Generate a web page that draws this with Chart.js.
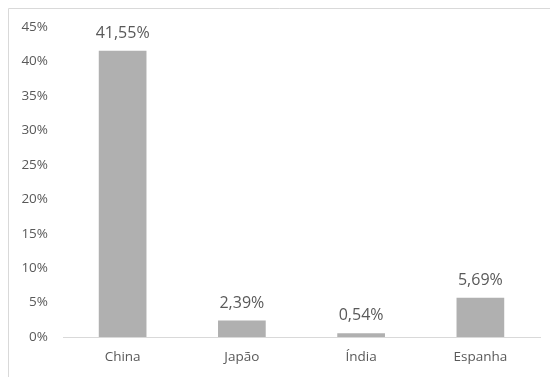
<!DOCTYPE html>
<html>
<head>
<meta charset="utf-8">
<script src="https://cdn.jsdelivr.net/npm/chart.js@4"></script>
<style>
  body { margin: 0; background: #fff; }
  #wrap { position: relative; width: 550px; height: 377px; }
</style>
</head>
<body>
<div id="wrap"><canvas id="barChart" width="550" height="377"></canvas></div>
<script>
const categories = ['China', 'Japão', 'Índia', 'Espanha'];
const shares = [41.55, 2.39, 0.54, 5.69];
const yTicks = [0, 5, 10, 15, 20, 25, 30, 35, 40, 45];

const textColor = '#595959';
const fontFamily = '"Open Sans", sans-serif';

// outer frame (only top and left edges are inside the picture)
const framePlugin = {
  id: 'frame',
  beforeDraw(chart) {
    const c = chart.ctx;
    c.save();
    c.strokeStyle = '#d9d9d9';
    c.lineWidth = 1;
    c.beginPath();
    c.moveTo(8.5, chart.height);
    c.lineTo(8.5, 8.5);
    c.lineTo(chart.width, 8.5);
    c.stroke();
    c.restore();
  }
};

// value labels above the bars
const valueLabels = {
  id: 'valueLabels',
  afterDatasetsDraw(chart) {
    const c = chart.ctx;
    const meta = chart.getDatasetMeta(0);
    c.save();
    c.font = '16px ' + fontFamily;
    c.fillStyle = textColor;
    c.textAlign = 'center';
    c.textBaseline = 'alphabetic';
    meta.data.forEach((bar, i) => {
      const txt = shares[i].toFixed(2).replace('.', ',') + '%';
      c.fillText(txt, bar.x, bar.y - 13);
    });
    c.restore();
  }
};

const ctx = document.getElementById('barChart');

new Chart(ctx, {
  type: 'bar',
  data: {
    labels: categories,
    datasets: [{
      data: shares,
      backgroundColor: '#b0b0b0',
      borderWidth: 0,
      barPercentage: 0.4,
      categoryPercentage: 1,
    }]
  },
  options: {
    responsive: false,
    animation: false,
    layout: {
      padding: { top: 27, right: 10, left: 0, bottom: 0 }
    },
    plugins: {
      legend: { display: false },
      tooltip: { enabled: false }
    },
    scales: {
      x: {
        grid: { display: false, drawTicks: false },
        border: { display: true, color: '#d9d9d9' },
        ticks: {
          color: textColor,
          font: { family: fontFamily, size: 13.5 },
          padding: 12,
          maxRotation: 0,
        },
        afterFit(scale) { scale.height = 40; }
      },
      y: {
        min: 0,
        max: 45,
        grid: { display: false, drawTicks: false },
        border: { display: false },
        afterBuildTicks(scale) {
          scale.ticks = yTicks.map(v => ({ value: v }));
        },
        ticks: {
          color: textColor,
          font: { family: fontFamily, size: 13.5 },
          padding: 15,
          callback: v => v + '%'
        },
        afterFit(scale) { scale.width = 63; }
      }
    }
  },
  plugins: [framePlugin, valueLabels]
});
</script>
</body>
</html>
